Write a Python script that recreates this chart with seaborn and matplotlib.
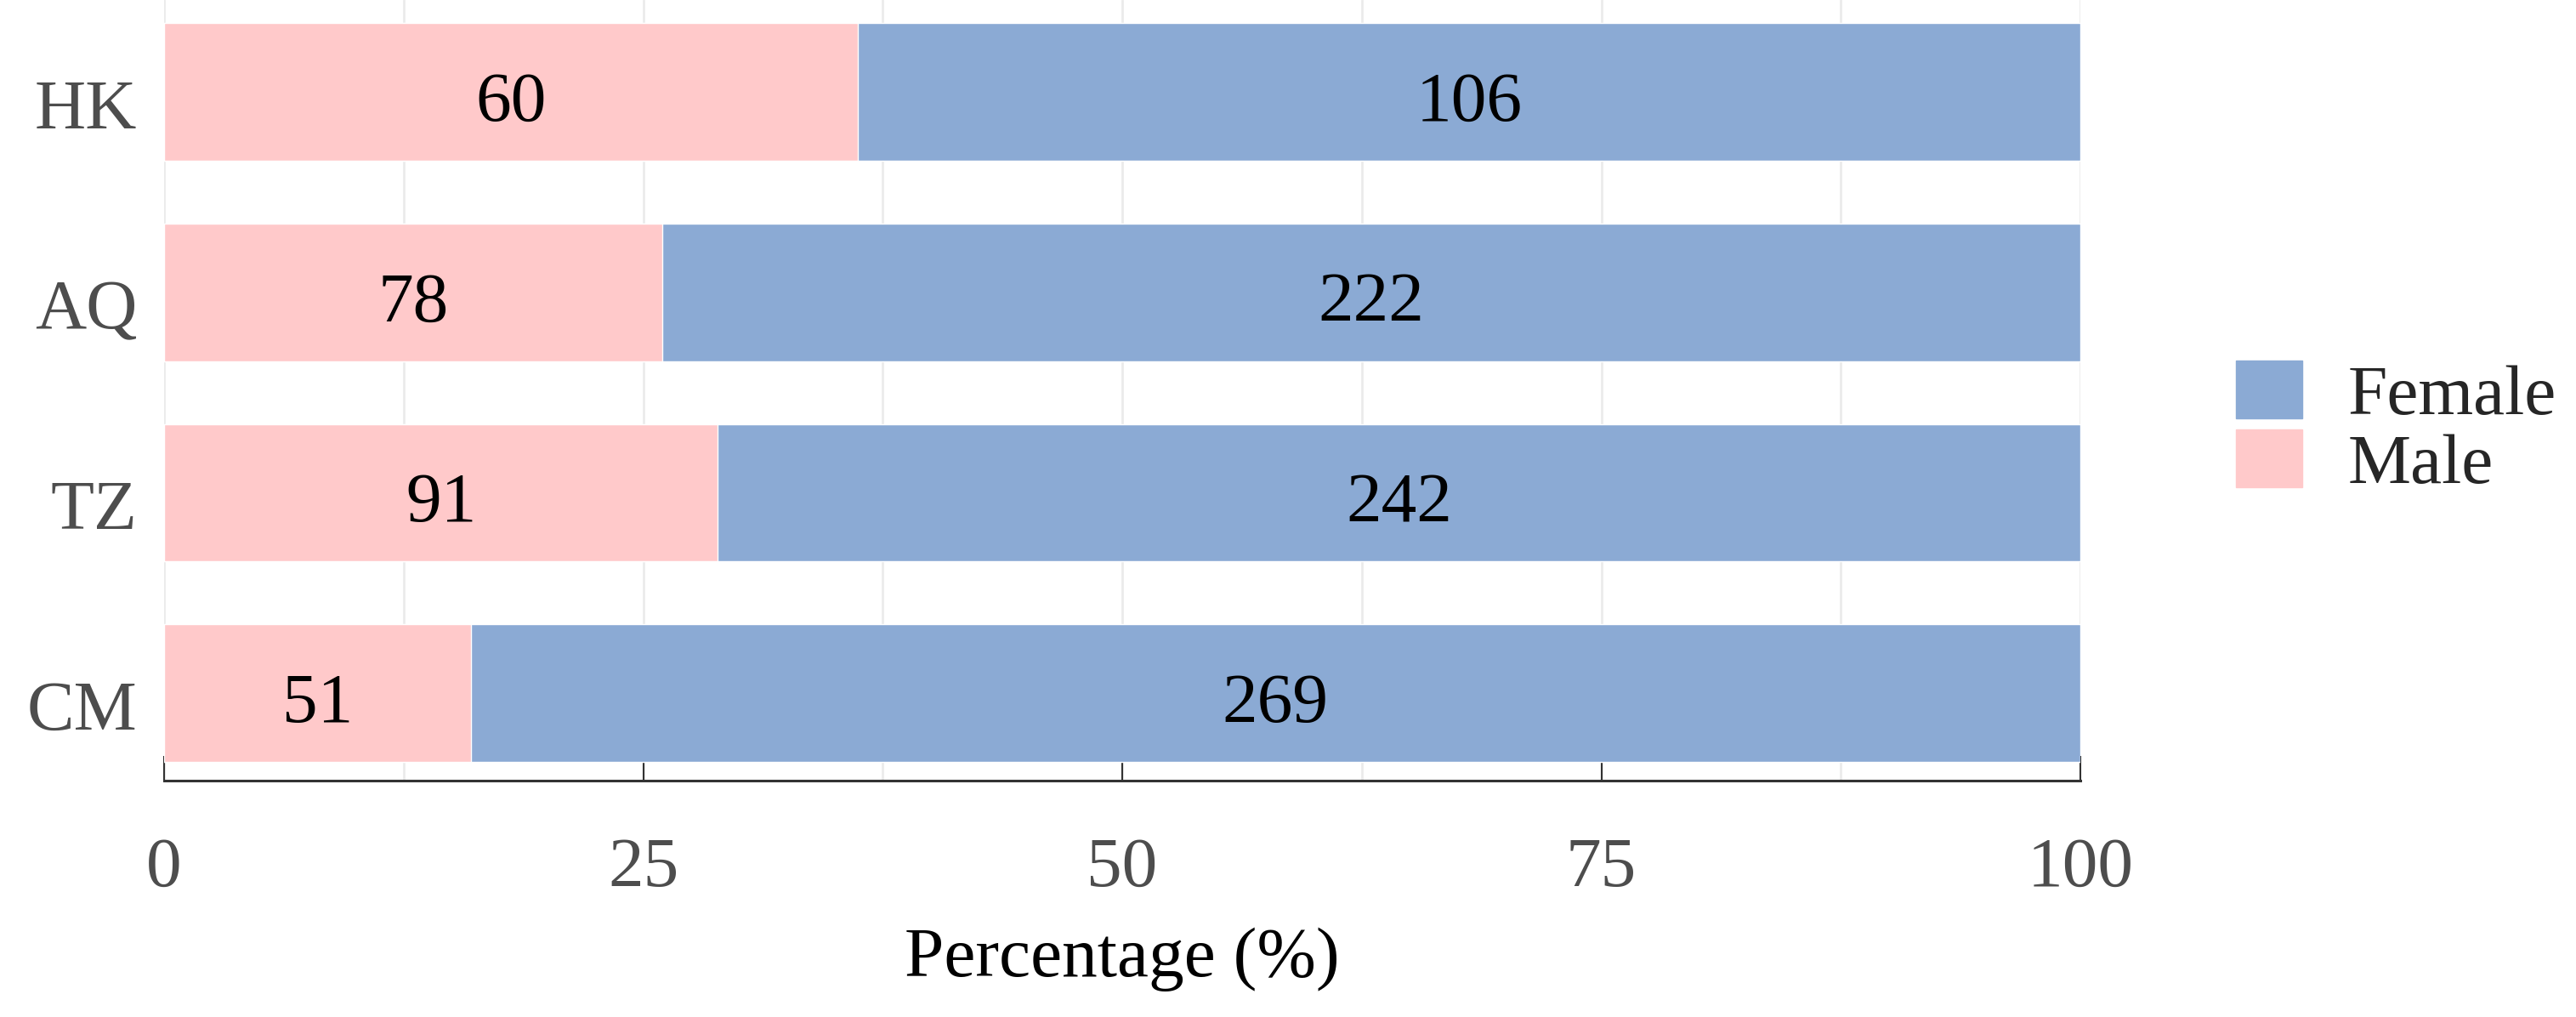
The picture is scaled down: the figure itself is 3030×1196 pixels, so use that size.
import pandas as pd
import matplotlib.pyplot as plt
import matplotlib.transforms as mtransforms
import seaborn as sns
from matplotlib.patches import Patch

# data
regions = ["HK", "AQ", "TZ", "CM"]
male_n = [60, 78, 91, 51]
female_n = [106, 222, 242, 269]
male_pct = [36.2, 26.0, 28.9, 16.0]   # length of the pink segment (%)

female_col = "#8BAAD4"
male_col = "#FFC9CA"

df = pd.DataFrame({"Region": regions, "Male": male_n, "Female": female_n,
                   "MalePct": male_pct})
df["FemalePct"] = 100 - df["MalePct"]
df["Total"] = df["MalePct"] + df["FemalePct"]

sns.set_style("white")
plt.rcParams["font.family"] = ["Liberation Serif", "DejaVu Serif"]

fig = plt.figure(figsize=(30.3, 11.96), dpi=100)
ax = fig.add_axes([0.0637, 0.2324, 0.7439, 0.7676])

# full bar in blue, male part in pink on top of it
sns.barplot(data=df, x="Total", y="Region", orient="h", color=female_col,
            width=0.686, saturation=1, ax=ax)
sns.barplot(data=df, x="MalePct", y="Region", orient="h", color=male_col,
            width=0.686, saturation=1, ax=ax)

# count labels centred in each segment (nudged down a little like the original)
for i, row in df.iterrows():
    ax.annotate(str(row["Male"]), (row["MalePct"] / 2, i), xytext=(0, -10),
                textcoords="offset points", ha="center", va="center",
                fontsize=60, color="black")
    ax.annotate(str(row["Female"]), (row["MalePct"] + row["FemalePct"] / 2, i),
                xytext=(0, -10), textcoords="offset points", ha="center",
                va="center", fontsize=60, color="black")

ax.set_xlim(0, 100)
ax.set_ylim(3.436, -0.458)
ax.set_xticks([0, 25, 50, 75, 100])
ax.set_xticks([12.5, 37.5, 62.5, 87.5], minor=True)
ax.grid(axis="x", which="both", color="#EBEBEB", linewidth=2)
ax.set_axisbelow(True)

for s in ["top", "right", "left"]:
    ax.spines[s].set_visible(False)
ax.spines["bottom"].set_color("#333333")
ax.spines["bottom"].set_linewidth(2.2)

ax.tick_params(axis="x", which="major", bottom=True, direction="in", length=21,
               width=1.5, color="#333333", labelsize=60, labelcolor="#4D4D4D",
               pad=48)
ax.tick_params(axis="x", which="minor", bottom=False, length=0)
ax.tick_params(axis="y", left=False, length=0, labelsize=60,
               labelcolor="#4D4D4D", pad=23)

shift = mtransforms.ScaledTranslation(0, -10 / 72, fig.dpi_scale_trans)
for lab in ax.get_yticklabels():
    lab.set_transform(lab.get_transform() + shift)

ax.set_ylabel("")
ax.set_xlabel("Percentage (%)", fontsize=60, color="black", labelpad=22)

handles = [Patch(color=female_col, label="Female"),
           Patch(color=male_col, label="Male")]
fig.legend(handles=handles, loc="center left", bbox_to_anchor=(0.868, 0.578),
           frameon=False, fontsize=60, handlelength=0.93, handleheight=0.88,
           handletextpad=0.65, labelspacing=0.0, borderpad=0, borderaxespad=0)

fig.savefig("out.png", dpi=100)
